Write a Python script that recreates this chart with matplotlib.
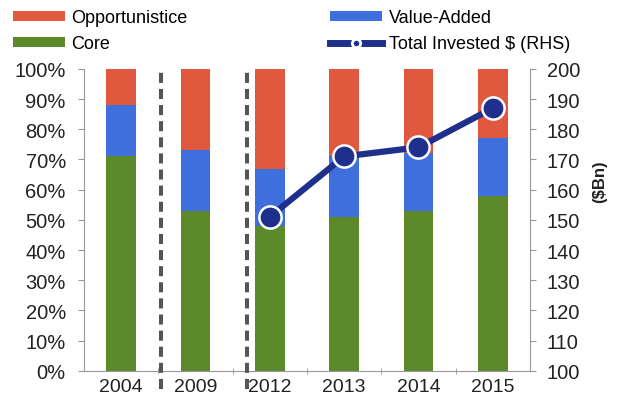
import matplotlib
matplotlib.use('Agg')
import matplotlib.pyplot as plt
from matplotlib.lines import Line2D
import numpy as np

plt.rcParams['font.family'] = ['Liberation Sans', 'DejaVu Sans']

years = ['2004', '2009', '2012', '2013', '2014', '2015']
core = [71, 53, 48, 51, 53, 58]
value_added = [17, 20, 19, 20, 19, 19]
opportunistic = [12, 27, 33, 29, 28, 23]
line_years = ['2012', '2013', '2014', '2015']
total_invested = [151, 171, 174, 187]

red = '#E0583E'
blue = '#3F6FDD'
green = '#5C8A2B'
navy = '#1F2F8C'
axis_gray = '#999999'
text_col = '#222222'

fig = plt.figure(figsize=(6.17, 4.06), dpi=100)
ax = fig.add_axes([0.136, 0.084, 0.723, 0.744])
x = np.arange(len(years))
w = 0.4

core_arr = np.array(core)
va_arr = np.array(value_added)
opp_arr = np.array(opportunistic)
b_core = ax.bar(x, core_arr, w, color=green, zorder=2)
b_va = ax.bar(x, va_arr, w, bottom=core_arr, color=blue, zorder=2)
b_opp = ax.bar(x, opp_arr, w, bottom=core_arr + va_arr, color=red, zorder=2)

ax.set_xlim(-0.5, len(years) - 0.5)
ax.set_ylim(0, 100)
ax.set_yticks(np.arange(0, 101, 10))
ax.set_yticklabels([f'{v}%' for v in range(0, 101, 10)])
ax.set_xticks(x)
ax.set_xticklabels(years)
ax.set_xticks(np.arange(0.5, len(years) - 0.5, 1), minor=True)
ax.tick_params(axis='x', which='major', length=0, labelsize=14, pad=5, labelcolor=text_col)
ax.tick_params(axis='x', which='minor', length=4, color=axis_gray, direction='inout')
ax.tick_params(axis='y', length=4, color=axis_gray, labelsize=14.5, pad=9, labelcolor=text_col)
for s in ['top', 'right']:
    ax.spines[s].set_visible(False)
for s in ['left', 'bottom']:
    ax.spines[s].set_color(axis_gray)

# dashed separators between the periods
for xs in [0.54, 1.69]:
    ax.plot([xs, xs], [-6, 100], color='#555555', lw=2.9, ls=(0, (2.5, 1.5)),
            dash_capstyle='butt', clip_on=False, zorder=3)

ax2 = ax.twinx()
ax2.set_ylim(100, 200)
ax2.set_yticks(np.arange(100, 201, 10))
line_x = [years.index(y) for y in line_years]
ax2.plot(line_x, total_invested, color=navy, lw=4.5, marker='o', markersize=16,
         markerfacecolor=navy, markeredgecolor='white', markeredgewidth=1.8, zorder=5)
ax2.tick_params(axis='y', length=4, color=axis_gray, labelsize=14.5, pad=8, labelcolor=text_col)
for s in ['top', 'left', 'bottom']:
    ax2.spines[s].set_visible(False)
ax2.spines['right'].set_color(axis_gray)
ax2.set_ylabel('($Bn)', fontsize=12, fontweight='bold', color=text_col)
ax2.yaxis.set_label_coords(1.14, 0.63)

line_handle = Line2D([], [], color=navy, lw=5, marker='o', markersize=6,
                     markerfacecolor=navy, markeredgecolor='white', markeredgewidth=2)
fig.legend([b_opp, b_core, b_va, line_handle],
           ['Opportunistice', 'Core', 'Value-Added', 'Total Invested $ (RHS)'],
           ncol=2, loc='upper left', bbox_to_anchor=(-0.006, 1.015), frameon=False,
           fontsize=13, handlelength=2.9, handleheight=0.45, handletextpad=0.35,
           columnspacing=7.9, labelspacing=0.5)

fig.savefig('out.png', dpi=100)
